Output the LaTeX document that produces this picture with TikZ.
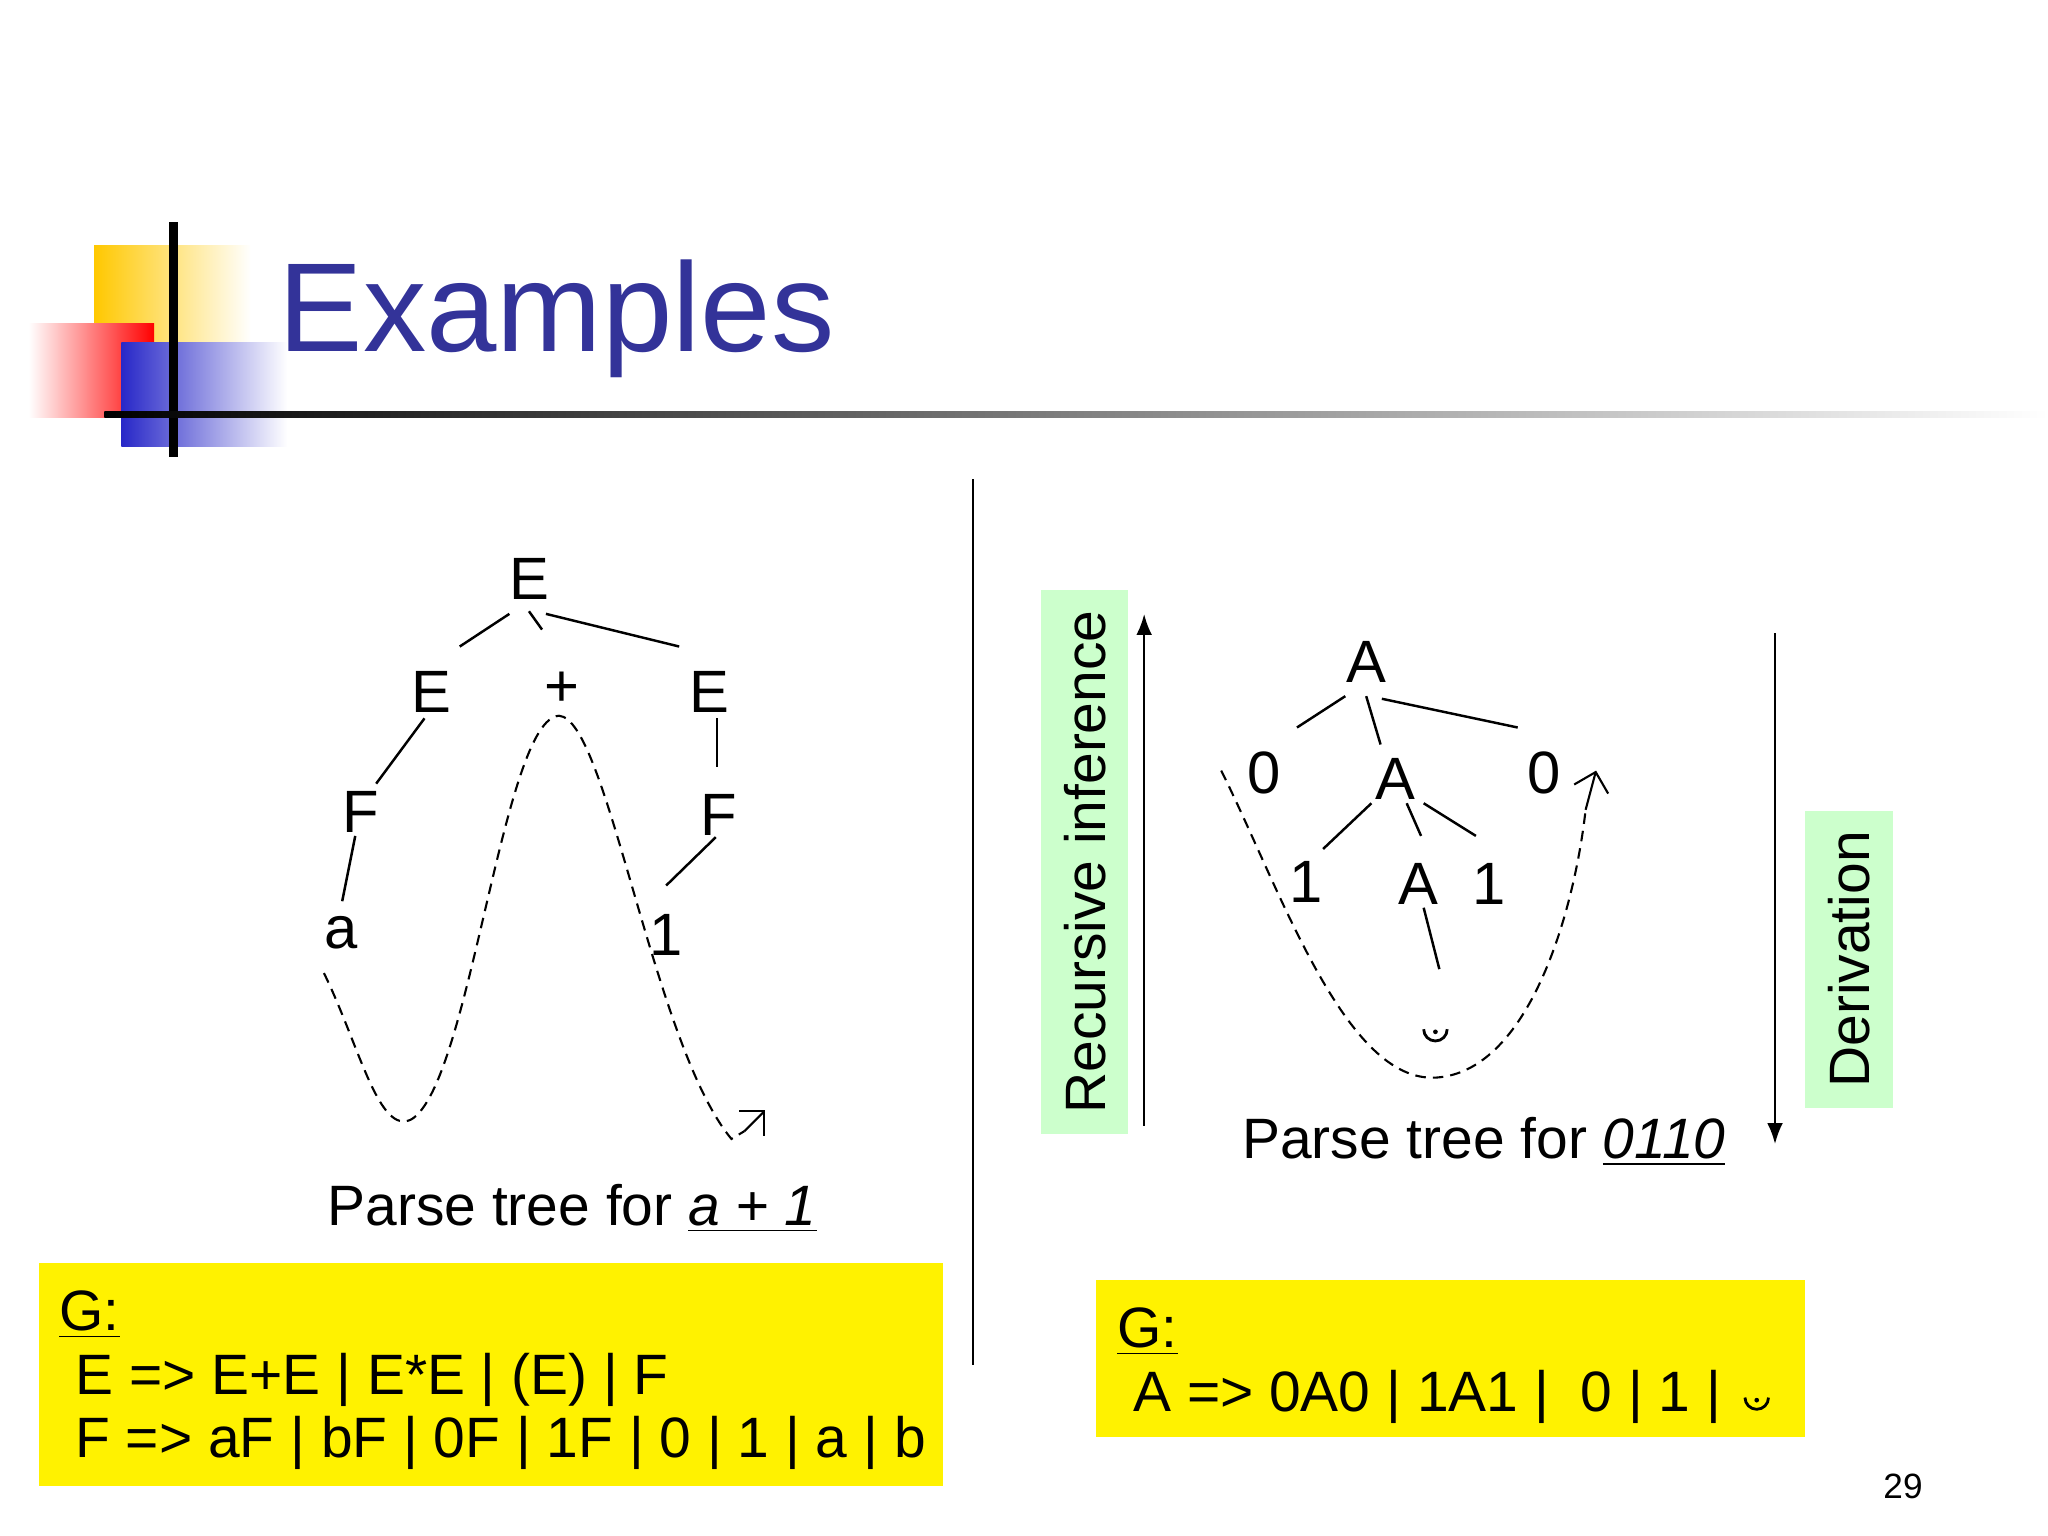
\documentclass[tikz,border=0pt]{standalone}
\usepackage{fontspec}
\setmainfont{Liberation Sans}
\usetikzlibrary{arrows.meta}
\definecolor{ttl}{RGB}{51,51,153}
\definecolor{lgreen}{RGB}{204,255,204}
\definecolor{lblue}{RGB}{40,40,200}
\definecolor{gold}{RGB}{255,200,0}
\tikzset{lab/.style={font=\fontsize{17}{20}\selectfont,inner sep=0pt},
 ed/.style={line width=0.7pt},
 dsh/.style={dashed,line width=0.6pt,dash pattern=on 3pt off 2pt},
 txt/.style={font=\fontsize{16.2}{19}\selectfont,inner sep=0pt},
 eps/.pic={\draw[line width=0.8pt] (-9,-2) arc[start angle=180,end angle=0,radius=9]; \fill (0,0) circle (1.8);}}
\begin{document}
\begin{tikzpicture}[x=0.013061cm,y=-0.013061cm]
\useasboundingbox (0,0) rectangle (1568,1176);
% logo
\shade[left color=gold,right color=white] (72,188) rectangle (192,300);
\shade[left color=white,right color=red] (22,248) rectangle (118,320);
\shade[left color=lblue,right color=white] (93,262) rectangle (220,342);
\draw[line width=2.5pt] (133,170) -- (133,350);
\shade[left color=black,right color=white] (80,315) rectangle (1568,320);
\node[anchor=west,text=ttl,font=\fontsize{36}{42}\selectfont,inner sep=0pt] (title) at (213,244) {Examples};
% separator
\coordinate (s1) at (745,367); \coordinate (s2) at (745,1045);
\draw[line width=0.8pt] (s1) -- (s2);
% left tree
\node[lab] (e0) at (405,443) {E};
\node[lab] (e1) at (330,530) {E};
\node[lab] (pl) at (430,528) {+};
\node[lab] (e2) at (543,530) {E};
\node[lab] (f1) at (276,622) {F};
\node[lab] (f2) at (550,624) {F};
\node[lab] (la) at (261,714) {a};
\node[lab] (l1) at (510,716) {1};
\draw[ed] (e0) ++(-53,52) -- ++(38,-25);
\draw[ed] (e0) ++(0,25) -- ++(10,14);
\draw[ed] (e0) ++(13,27) -- ++(102,25);
\draw[ed] (e1) ++(-5,20) -- ++(-37,50);
\draw[ed] (f1) ++(-4,18) -- ++(-10,50);
\draw[ed] (e2) ++(6,20) -- ++(0,37);
\draw[ed] (f2) ++(-2,17) -- ++(-38,37);
\coordinate (da) at (248,745); \coordinate (db) at (560,872); \coordinate (dc) at (586,850);
\draw[dsh] (da) .. controls (275,800) and (290,870) .. (315,857) .. controls (360,830) and (385,550) .. (428,548) .. controls (465,550) and (500,800) .. (db) -- (570,866);
\draw[-{Straight Barb[length=5pt]},line width=0.6pt] (570,866) -- (dc);
\node[txt,anchor=base] (c1) at (438,938) {Parse tree for \underline{\itshape a + 1}};
\node[fill=yellow,minimum width=692*0.013061cm,minimum height=171*0.013061cm,inner sep=0pt] (g1) at (376,1052.5) {};
\node[txt,anchor=north west,align=left] (g1t) at (45,988) {\underline{G:}\\[-1pt] \ E => E+E | E*E | (E) | F\\[-1pt] \ F => aF | bF | 0F | 1F | 0 | 1 | a | b};
% right tree
\node[lab] (a0) at (1046,507) {A};
\node[lab] (z1) at (968,592) {0};
\node[lab] (a1) at (1068,596) {A};
\node[lab] (z2) at (1182,592) {0};
\node[lab] (o1) at (1000,675) {1};
\node[lab] (a2) at (1086,677) {A};
\node[lab] (o2) at (1140,677) {1};
\coordinate (ep) at (1099,790);
\pic at (ep) {eps};
\draw[ed] (a0) ++(-53,50) -- ++(37,-24);
\draw[ed] (a0) ++(0,26) -- ++(11,37);
\draw[ed] (a0) ++(12,28) -- ++(104,22);
\draw[ed] (a1) ++(-18,19) -- ++(-37,35);
\draw[ed] (a1) ++(9,19) -- ++(11,25);
\draw[ed] (a1) ++(22,19) -- ++(40,25);
\draw[ed] (a2) ++(4,18) -- ++(12,47);
\coordinate (rd1) at (935,590); \coordinate (rd2) at (1214,620); \coordinate (rd3) at (1222,590);
\draw[dsh] (rd1) .. controls (980,680) and (1030,830) .. (1100,825) .. controls (1170,820) and (1205,700) .. (rd2);
\draw[-{Straight Barb[length=5pt]},line width=0.6pt] (rd2) -- (rd3);
\node[txt,anchor=base] (c2) at (1136,887) {Parse tree for \underline{\itshape 0110}};
\node[fill=lgreen,minimum width=67*0.013061cm,minimum height=416*0.013061cm,inner sep=0pt] (rb) at (830.5,660) {};
\node[txt,rotate=90] (rt) at (rb) {Recursive inference};
\coordinate (u1) at (876,862); \coordinate (u2) at (876,470);
\draw[-{Latex[length=6pt]},line width=0.7pt] (u1) -- (u2);
\coordinate (d1) at (1359,485); \coordinate (d2) at (1359,876);
\draw[-{Latex[length=6pt]},line width=0.7pt] (d1) -- (d2);
\node[fill=lgreen,minimum width=67*0.013061cm,minimum height=227*0.013061cm,inner sep=0pt] (db2) at (1415.5,734.5) {};
\node[txt,rotate=90] (dt) at (db2) {Derivation};
\node[fill=yellow,minimum width=543*0.013061cm,minimum height=120*0.013061cm,inner sep=0pt] (g2) at (1110.5,1040) {};
\node[txt,anchor=north west,align=left] (g2t) at (855,1001) {\underline{G:}\\[-1pt] \ A => 0A0 | 1A1 |\ \ 0 | 1 |};
\pic at (1345,1072) {eps};
\node[font=\fontsize{10}{12}\selectfont,inner sep=0pt] (pg) at (1457,1138) {29};
\end{tikzpicture}
\end{document}
